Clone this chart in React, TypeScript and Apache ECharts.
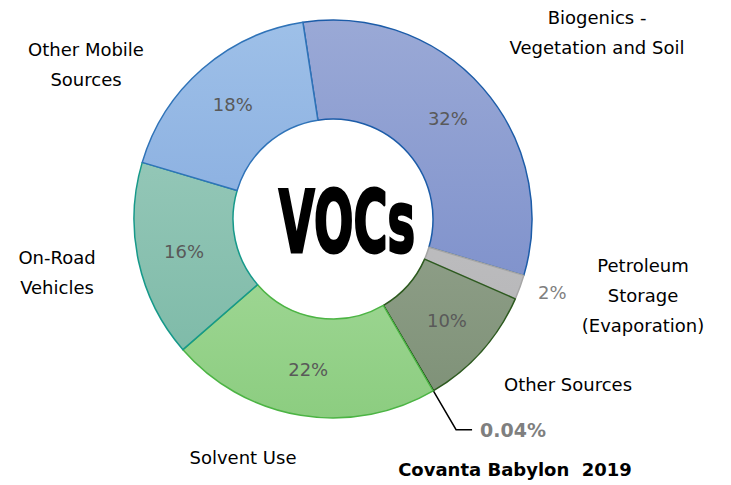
import React, { useEffect, useRef } from "react";
import * as echarts from "echarts";

const categories = [
  "Biogenics - Vegetation and Soil",
  "Petroleum Storage (Evaporation)",
  "Other Sources",
  "Covanta Babylon 2019",
  "Solvent Use",
  "On-Road Vehicles",
  "Other Mobile Sources",
];
const values = [32, 2, 10, 0.04, 22, 16, 18];
const percentLabels = ["32%", "2%", "10%", "0.04%", "22%", "16%", "18%"];
const nameLines = [
  ["Biogenics -", "Vegetation and Soil"],
  ["Petroleum", "Storage", "(Evaporation)"],
  ["Other Sources"],
  [],
  ["Solvent Use"],
  ["On-Road", "Vehicles"],
  ["Other Mobile", "Sources"],
];
const centerTitle = "VOCs";
const footNote = "Covanta Babylon  2019";

// [top colour, bottom colour] of each slice's vertical gradient
const fillsTop = ["#9aa9d6", "#c8c8ca", "#a3b09d", "#000000", "#bde6b4", "#a2cfc1", "#9ec0e8"];
const fillsBottom = ["#7387c7", "#b2b2b4", "#7d9076", "#000000", "#8ccd80", "#78b7a4", "#789fd9"];
const borders = ["#1c5ca8", "#a5a5a5", "#2d5a1f", "#000000", "#4cb444", "#16998a", "#2f73b8"];
// label block anchor (center x, first-line y) for outer category names
const namePos: [number, number][] = [
  [597, 17],
  [643, 265],
  [568, 384],
  [0, 0],
  [243, 457],
  [57, 257],
  [86, 49],
];

const FONT = "'DejaVu Sans', sans-serif";

export default function App() {
  const ref = useRef<HTMLDivElement>(null);
  useEffect(() => {
    if (!ref.current) return;
    const chart = echarts.init(ref.current, null, { renderer: "svg" });
    const cx = 333;
    const cy = 219;
    const rOut = 199;
    const data = categories.map((name, i) => {
      const grad = new echarts.graphic.LinearGradient(
        0, cy - rOut, 0, cy + rOut,
        [
          { offset: 0, color: fillsTop[i] },
          { offset: 1, color: fillsBottom[i] },
        ],
        true
      );
      const item: any = {
        name,
        value: values[i],
        itemStyle: { color: grad, borderColor: borders[i], borderWidth: 1.5 },
        label: {
          show: true,
          position: "inside",
          formatter: percentLabels[i],
          color: "#595959",
          fontSize: 18,
          fontFamily: FONT,
        },
      };
      if (i === 1) {
        item.label = {
          show: true,
          position: "outside",
          formatter: percentLabels[i],
          color: "#7f7f7f",
          fontSize: 18,
          fontFamily: FONT,
        };
        item.labelLine = { show: false, length: 14, length2: 0 };
      }
      if (i === 3) {
        item.itemStyle = { color: "#000", borderColor: "#000", borderWidth: 1 };
        item.label = {
          show: true,
          position: "outside",
          formatter: percentLabels[i],
          color: "#7f7f7f",
          fontSize: 19,
          fontWeight: "bold",
          fontFamily: FONT,
          distanceToLabelLine: 8,
          padding: [6, 0, 0, 0],
        };
        item.labelLine = {
          show: true,
          length: 45,
          length2: 16,
          lineStyle: { color: "#000", width: 1.5 },
        };
      }
      return item;
    });

    const graphics: any[] = [];
    nameLines.forEach((lines, i) => {
      lines.forEach((t, j) => {
        graphics.push({
          type: "text",
          x: namePos[i][0],
          y: namePos[i][1] + j * 30,
          style: {
            text: t,
            fill: "#000",
            font: `18px ${FONT}`,
            textAlign: "center",
            textVerticalAlign: "middle",
          },
        });
      });
    });
    graphics.push({
      type: "text",
      x: 515,
      y: 469,
      style: {
        text: footNote,
        fill: "#000",
        font: `bold 18px ${FONT}`,
        textAlign: "center",
        textVerticalAlign: "middle",
      },
    });
    graphics.push({
      type: "text",
      x: 347,
      y: 222,
      scaleX: 0.54,
      style: {
        text: centerTitle,
        fill: "#000",
        stroke: "#000",
        lineWidth: 3,
        font: `bold 86px ${FONT}`,
        textAlign: "center",
        textVerticalAlign: "middle",
      },
    });

    chart.setOption({
      animation: false,
      backgroundColor: "#fff",
      graphic: graphics,
      series: [
        {
          type: "pie",
          center: [cx, cy],
          radius: [100, rOut],
          startAngle: 98.7,
          clockwise: true,
          avoidLabelOverlap: false,
          minAngle: 0,
          data,
        },
      ],
    });
    return () => chart.dispose();
  }, []);
  return (
    <div
      ref={ref}
      style={{ position: "fixed", left: 0, top: 0, width: 731, height: 485 }}
    />
  );
}
